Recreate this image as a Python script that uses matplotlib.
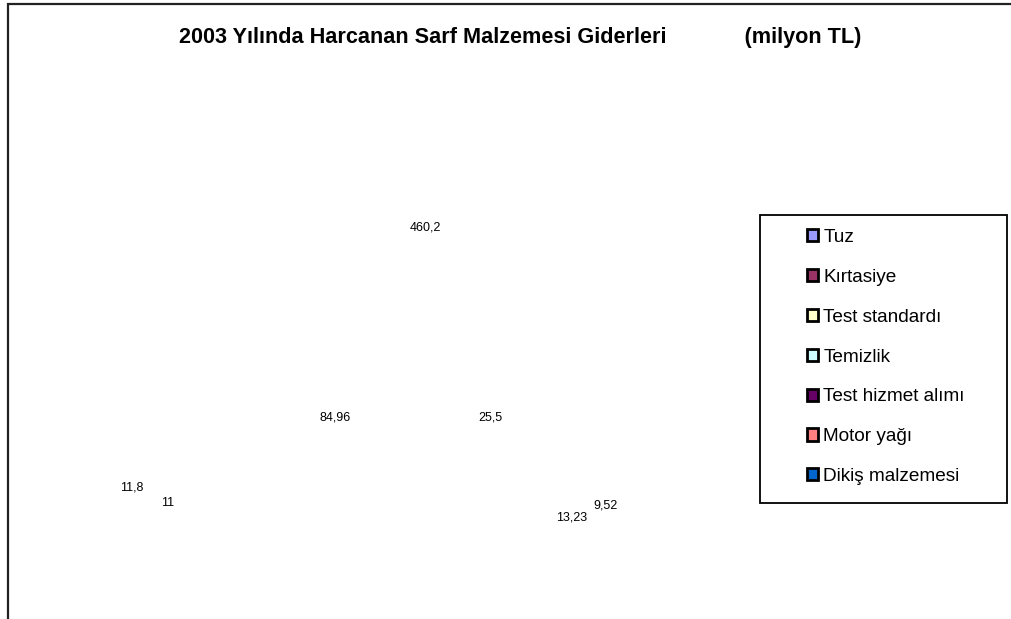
import matplotlib
matplotlib.use("Agg")
import matplotlib.pyplot as plt
from matplotlib.patches import Patch, Rectangle

plt.rcParams["font.family"] = ["Liberation Sans", "DejaVu Sans"]

# data
categories = ["Tuz", "Kırtasiye", "Test standardı", "Temizlik",
              "Test hizmet alımı", "Motor yağı", "Dikiş malzemesi"]
values = [460.2, 25.5, 9.52, 13.23, 11, 11.8, 84.96]
colors = ["#9999FF", "#993366", "#FFFFCC", "#CCFFFF",
          "#660066", "#FF8080", "#0066CC"]

# label positions (pixels, dragged by hand in the original)
label_px = [(425, 227), (490, 417), (606, 506), (572, 518),
            (168, 503), (132, 487), (335, 418)]

W, H = 1012, 619
fig = plt.figure(figsize=(W / 100, H / 100), dpi=100)

# outer chart border (left + top visible, rest runs off the image)
fig.patches.append(Rectangle((8 / W, -0.1), 1.2, 1.1 - 4 / H,
                             transform=fig.transFigure, fill=False,
                             edgecolor="#222222", lw=1.6))

# pie area – slices are not rendered in the original, only their labels
ax = fig.add_axes([0.05, 0.05, 0.65, 0.75])
wedges, _ = ax.pie(values, colors=colors, startangle=90, counterclock=False)
for w in wedges:
    w.set_visible(False)
ax.set_axis_off()

for v, (px, py) in zip(values, label_px):
    fig.text(px / W, 1 - py / H, f"{v:g}".replace(".", ","),
             ha="center", va="center", fontsize=9, color="black")

fig.text(520 / W, 1 - 38 / H,
         "2003 Yılında Harcanan Sarf Malzemesi Giderleri             (milyon TL)",
         ha="center", va="center", fontsize=15.6, fontweight="bold")

# legend frame
fig.patches.append(Rectangle((760 / W, 1 - 503 / H), 247 / W, 288 / H,
                             transform=fig.transFigure, fill=False,
                             edgecolor="black", lw=1.3))
handles = [Patch(facecolor=c, edgecolor="black", lw=2) for c in colors]
fig.legend(handles, categories, loc="upper left",
           bbox_to_anchor=(807 / W, 1 - 229 / H), frameon=False,
           fontsize=13.7, handlelength=0.6, handleheight=0.6,
           handletextpad=0.25, labelspacing=1.2, borderpad=0, borderaxespad=0)

fig.savefig("out.png", dpi=100, facecolor="white")
